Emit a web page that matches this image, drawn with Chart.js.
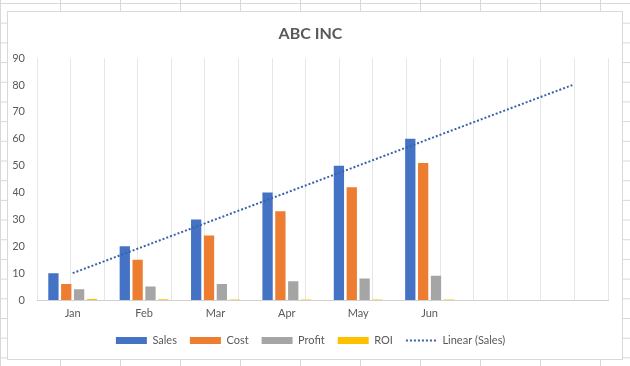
<!DOCTYPE html>
<html>
<head>
<meta charset="utf-8">
<script src="https://cdn.jsdelivr.net/npm/chart.js@4.4.1/dist/chart.umd.min.js"></script>
<style>
html, body { margin: 0; padding: 0; }
body {
  width: 630px; height: 366px; overflow: hidden; position: relative; background: #fff;
  background-image: linear-gradient(to right, #d8d8d8 1px, transparent 1px),
                    linear-gradient(to bottom, #d8d8d8 1px, transparent 1px);
  background-size: 60px 19.7px;
  background-position: 0 3px;
}
#frame {
  position: absolute; left: 7px; top: 11px; width: 614px; height: 347px;
  background: #fff; border: 1px solid #d9d9d9;
}
</style>
</head>
<body>
<div id="frame"><canvas id="myChart" width="614" height="347"></canvas></div>
<script>
var categories = ['Jan', 'Feb', 'Mar', 'Apr', 'May', 'Jun', '', '']
var sales = [10, 20, 30, 40, 50, 60]
var cost = [6, 15, 24, 33, 42, 51]
var profit = [4, 5, 6, 7, 8, 9]
var roi = [0.4, 0.25, 0.2, 0.18, 0.16, 0.15]
var salesTrend = [10, 20, 30, 40, 50, 60, 70, 80]
var yTicks = [0, 10, 20, 30, 40, 50, 60, 70, 80, 90]

var fontName = 'Lato, "Open Sans", sans-serif'
var textGrey = '#595959'
var trendColor = '#3A62A8'

function bar(label, values, color) {
    return {
        type: 'bar',
        label: label,
        data: values,
        backgroundColor: color,
        borderWidth: 0,
        categoryPercentage: 0.72,
        barPercentage: 0.8,
        xAxisID: 'x',
        order: 2
    }
}

var data = {
    labels: categories,
    datasets: [
        bar('Sales', sales, '#4472C4'),
        bar('Cost', cost, '#ED7D31'),
        bar('Profit', profit, '#A5A5A5'),
        bar('ROI', roi, '#FFC000'),
        {
            type: 'line',
            label: 'Linear (Sales)',
            data: salesTrend,
            borderColor: trendColor,
            backgroundColor: 'transparent',
            borderWidth: 2,
            borderDash: [2, 2],
            pointRadius: 0,
            tension: 0,
            xAxisID: 'x',
            order: 1
        }
    ]
}

const options = {
    responsive: false,
    animation: false,
    layout: { padding: { left: 5, right: 14, top: 0, bottom: 3 } },
    plugins: {
        title: {
            display: true,
            text: 'ABC INC',
            color: textGrey,
            font: { family: fontName, size: 16, weight: 'bold' },
            padding: { top: 12, bottom: 15 }
        },
        legend: {
            position: 'bottom',
            labels: {
                color: textGrey,
                font: { family: fontName, size: 11 },
                usePointStyle: true,
                pointStyleWidth: 31,
                boxHeight: 7,
                padding: 13,
                sort: function (a, b) { return a.datasetIndex - b.datasetIndex },
                generateLabels: function (chart) {
                    var items = Chart.defaults.plugins.legend.labels.generateLabels(chart)
                    items.forEach(function (it) {
                        if (it.datasetIndex === 4) {
                            it.pointStyle = 'line'
                            it.lineWidth = 2
                            it.lineDash = [2, 2]
                            it.strokeStyle = trendColor
                        } else {
                            it.pointStyle = 'rect'
                            it.lineWidth = 0
                        }
                    })
                    return items
                }
            }
        },
        tooltip: { enabled: false }
    },
    scales: {
        x: {
            type: 'category',
            offset: true,
            grid: { display: false, drawTicks: false },
            border: { display: true, color: '#d0d0d0' },
            ticks: { color: textGrey, font: { family: fontName, size: 11 }, padding: 7 },
            afterFit: function (s) { s.height = 22 }
        },
        xg: {
            type: 'linear',
            position: 'bottom',
            min: 0,
            max: categories.length * 2,
            ticks: { stepSize: 1, display: false },
            grid: { color: '#e6e6e6', drawTicks: false },
            border: { display: false },
            afterFit: function (s) { s.height = 0 }
        },
        y: {
            min: 0,
            max: 90,
            afterBuildTicks: function (s) { s.ticks = yTicks.map(function (v) { return { value: v } }) },
            grid: { display: false, drawTicks: false },
            border: { display: false },
            ticks: { color: textGrey, font: { family: fontName, size: 11 }, padding: 12 },
            afterFit: function (s) { s.width = 24 }
        }
    }
}

new Chart(document.getElementById('myChart'), {
    type: 'bar',
    data: data,
    options: options
})
</script>
</body>
</html>
